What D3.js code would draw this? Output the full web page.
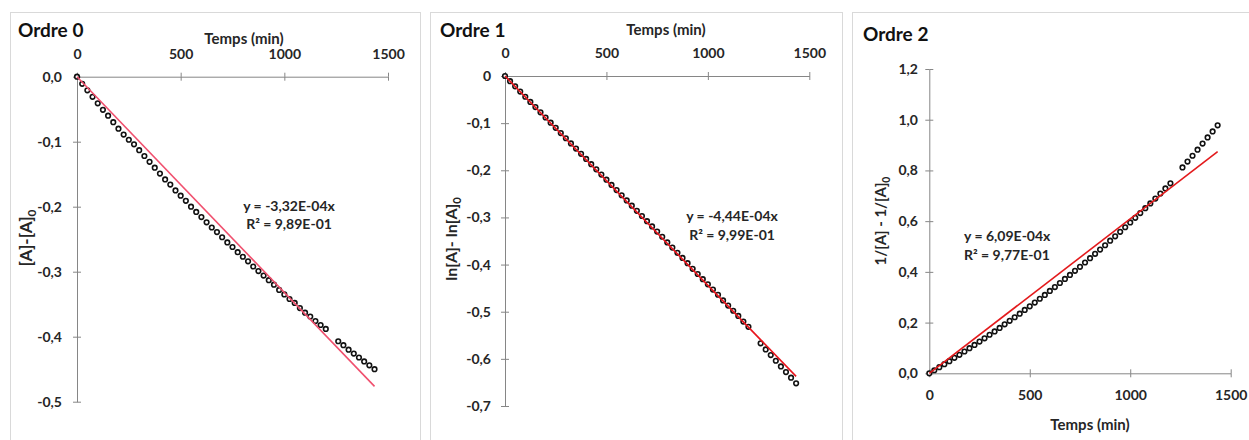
<!DOCTYPE html>
<html>
<head>
<meta charset="utf-8">
<script src="https://cdn.jsdelivr.net/npm/d3@7"></script>
<style>
  html, body { margin: 0; padding: 0; background: #fff; }
  svg { display: block; font-family: Lato, "Open Sans", sans-serif; }
</style>
</head>
<body>
<svg id="chart" width="1249" height="440"></svg>
<script>
// Sampling times (min)
const times = [
  0, 25, 50, 75, 100, 125, 150, 175, 200, 225, 250, 275, 300, 325, 350, 375,
  400, 425, 450, 475, 500, 525, 550, 575, 600, 625, 650, 675, 700, 725, 750, 775,
  800, 825, 850, 875, 900, 925, 950, 975, 1000, 1025, 1050, 1075, 1100, 1125, 1150, 1175,
  1200, 1260, 1285, 1310, 1335, 1360, 1385, 1410, 1435
];

// [A] - [A]0
const order0Values = [
  0.000, -0.011, -0.021, -0.031, -0.041, -0.051, -0.060, -0.070, -0.080, -0.089, -0.097, -0.104, -0.113, -0.122, -0.131, -0.140,
  -0.149, -0.158, -0.166, -0.175, -0.183, -0.191, -0.200, -0.208, -0.216, -0.224, -0.232, -0.239, -0.247, -0.255, -0.262, -0.270,
  -0.277, -0.284, -0.292, -0.299, -0.306, -0.313, -0.320, -0.328, -0.335, -0.342, -0.348, -0.356, -0.363, -0.369, -0.376, -0.382,
  -0.388, -0.407, -0.413, -0.420, -0.426, -0.432, -0.438, -0.444, -0.450
];

// ln[A] - ln[A]0
const order1Values = [
  0.000, -0.011, -0.022, -0.033, -0.044, -0.055, -0.066, -0.077, -0.088, -0.099, -0.110, -0.121, -0.132, -0.143, -0.154, -0.165,
  -0.176, -0.187, -0.198, -0.209, -0.220, -0.231, -0.242, -0.253, -0.264, -0.275, -0.286, -0.297, -0.308, -0.319, -0.330, -0.341,
  -0.353, -0.364, -0.375, -0.386, -0.397, -0.409, -0.420, -0.431, -0.442, -0.453, -0.464, -0.476, -0.487, -0.498, -0.509, -0.521,
  -0.532, -0.567, -0.580, -0.592, -0.604, -0.616, -0.628, -0.640, -0.652
];

// 1/[A] - 1/[A]0
const order2Values = [
  0.000, 0.012, 0.024, 0.036, 0.048, 0.061, 0.073, 0.086, 0.099, 0.112, 0.125, 0.138, 0.152, 0.165, 0.179, 0.193,
  0.207, 0.221, 0.235, 0.250, 0.264, 0.279, 0.294, 0.309, 0.325, 0.340, 0.356, 0.372, 0.388, 0.404, 0.420, 0.437,
  0.454, 0.471, 0.488, 0.505, 0.523, 0.540, 0.558, 0.576, 0.595, 0.613, 0.632, 0.651, 0.670, 0.689, 0.709, 0.729,
  0.749, 0.812, 0.835, 0.858, 0.882, 0.906, 0.930, 0.954, 0.978
];

// Linear fits through the origin: slope and R²
const fitSlopes = [-3.32e-4, -4.44e-4, 6.09e-4];
const fitR2 = [0.989, 0.999, 0.977];

const panelTitles = ["Ordre 0", "Ordre 1", "Ordre 2"];
const xTitle = "Temps (min)";

const xTickValues = [0, 500, 1000, 1500];
const xTickLabels = ["0", "500", "1000", "1500"];

const yTicks0 = [0, -0.1, -0.2, -0.3, -0.4, -0.5];
const yTickLabels0 = ["0,0", "-0,1", "-0,2", "-0,3", "-0,4", "-0,5"];
const yTicks1 = [0, -0.1, -0.2, -0.3, -0.4, -0.5, -0.6, -0.7];
const yTickLabels1 = ["0", "-0,1", "-0,2", "-0,3", "-0,4", "-0,5", "-0,6", "-0,7"];
const yTicks2 = [0, 0.2, 0.4, 0.6, 0.8, 1.0, 1.2];
const yTickLabels2 = ["0,0", "0,2", "0,4", "0,6", "0,8", "1,0", "1,2"];

// Excel-style scientific notation with a decimal comma, e.g. -3,32E-04
function sci(v) {
  const e = Math.floor(Math.log10(Math.abs(v)));
  const m = v / Math.pow(10, e);
  return m.toFixed(2).replace(".", ",") + "E" + (e < 0 ? "-" : "+") + String(Math.abs(e)).padStart(2, "0");
}

const svg = d3.select("#chart");
const AXIS = "#868686";
const TEXT = "#262626";
const TICK_FONT = 14;

const panels = [
  {
    frame: [10, 12, 410, 440],
    title: { x: 18, y: 37 },
    values: order0Values, slope: fitSlopes[0], r2: fitR2[0],
    xRange: [77, 388], yDomain: [-0.5, 0], yRange: [401.7, 76.7],
    yTicks: yTicks0, yLabels: yTickLabels0,
    xAxisTop: true, xLabelBaseline: 59, xTitlePos: { x: 244, y: 44 },
    yLabelRight: 62, yTitle: { x: 26, y: 238, size: 17, main: "[A]-[A]", sub: "0" },
    eq: { x: 289, y: 211, anchor: "middle", dy: 18 },
    fitColor: "#f0506e"
  },
  {
    frame: [430, 12, 412, 440],
    title: { x: 440, y: 37 },
    values: order1Values, slope: fitSlopes[1], r2: fitR2[1],
    xRange: [505, 809.3], yDomain: [-0.7, 0], yRange: [406, 76],
    yTicks: yTicks1, yLabels: yTickLabels1,
    xAxisTop: true, xLabelBaseline: 58, xTitlePos: { x: 666, y: 35 },
    yLabelRight: 491, yTitle: { x: 451, y: 239, size: 16, main: "ln[A]- ln[A]", sub: "0" },
    eq: { x: 732, y: 221, anchor: "middle", dy: 19 },
    fitColor: "#e8141c"
  },
  {
    frame: [852, 12, 420, 440],
    title: { x: 863, y: 41 },
    values: order2Values, slope: fitSlopes[2], r2: fitR2[2],
    xRange: [929.3, 1230.7], yDomain: [0, 1.2], yRange: [373.3, 69],
    yTicks: yTicks2, yLabels: yTickLabels2,
    xAxisTop: false, xLabelBaseline: 400, xTitlePos: { x: 1090, y: 430 },
    yLabelRight: 918, yTitle: { x: 881, y: 221, size: 15, main: "1/[A] - 1/[A]", sub: "0" },
    eq: { x: 964, y: 241, anchor: "start", dy: 19 },
    fitColor: "#e31a1c"
  }
];

panels.forEach((p, i) => {
  const g = svg.append("g");

  // Chart area frame
  g.append("rect")
    .attr("x", p.frame[0] + 0.5).attr("y", p.frame[1] + 0.5)
    .attr("width", p.frame[2]).attr("height", p.frame[3])
    .attr("fill", "#fff").attr("stroke", "#d9d9d9").attr("stroke-width", 1);

  g.append("text")
    .attr("x", p.title.x).attr("y", p.title.y)
    .attr("font-size", 19).attr("font-weight", 700).attr("fill", "#111")
    .text(panelTitles[i]);

  const x = d3.scaleLinear().domain([0, 1500]).range(p.xRange);
  const y = d3.scaleLinear().domain(p.yDomain).range(p.yRange);

  // X axis (crosses the Y axis at 0)
  const x0 = y(0);
  const xAxis = (p.xAxisTop ? d3.axisTop(x) : d3.axisBottom(x))
    .tickValues(xTickValues)
    .tickFormat((d, j) => xTickLabels[j])
    .tickSizeInner(4).tickSizeOuter(0);
  const gx = g.append("g").attr("transform", `translate(0,${x0})`).call(xAxis);
  gx.select(".domain").attr("stroke", AXIS);
  gx.selectAll(".tick line").attr("stroke", AXIS);
  gx.selectAll(".tick").append("line")
    .attr("y2", p.xAxisTop ? 4 : -4).attr("stroke", AXIS);
  gx.selectAll(".tick text")
    .attr("fill", TEXT).attr("font-size", TICK_FONT).attr("font-weight", 700)
    .attr("font-family", "Lato, sans-serif")
    .attr("dy", "0").attr("y", p.xLabelBaseline - x0);

  // Y axis
  const y0 = x(0);
  const yAxis = d3.axisLeft(y)
    .tickValues(p.yTicks)
    .tickFormat((d, j) => p.yLabels[j])
    .tickSizeInner(4).tickSizeOuter(0)
    .tickPadding(y0 - p.yLabelRight - 4);
  const gy = g.append("g").attr("transform", `translate(${y0},0)`).call(yAxis);
  gy.select(".domain").attr("stroke", AXIS);
  gy.selectAll(".tick line").attr("stroke", AXIS);
  gy.selectAll(".tick").append("line").attr("x2", 4).attr("stroke", AXIS);
  gy.selectAll(".tick text")
    .attr("fill", TEXT).attr("font-size", TICK_FONT).attr("font-weight", 700)
    .attr("font-family", "Lato, sans-serif");

  // Axis titles
  g.append("text")
    .attr("x", p.xTitlePos.x).attr("y", p.xTitlePos.y)
    .attr("text-anchor", "middle")
    .attr("font-size", 15).attr("font-weight", 700).attr("fill", TEXT)
    .text(xTitle);

  const yt = g.append("text")
    .attr("transform", `translate(${p.yTitle.x},${p.yTitle.y}) rotate(-90)`)
    .attr("text-anchor", "middle").attr("dy", "0.35em")
    .attr("font-size", p.yTitle.size).attr("font-weight", 700).attr("fill", TEXT);
  yt.append("tspan").text(p.yTitle.main);
  yt.append("tspan").attr("font-size", p.yTitle.size * 0.7).attr("dy", 4).text(p.yTitle.sub);

  // Data points
  const pts = times.map((t, j) => [t, p.values[j]]);
  g.append("g").selectAll("circle").data(pts).join("circle")
    .attr("cx", d => x(d[0])).attr("cy", d => y(d[1]))
    .attr("r", 2.3)
    .attr("fill", "#fff").attr("stroke", "#111").attr("stroke-width", 1.6);

  // Trendline y = a·x through the origin
  const tEnd = d3.max(times);
  g.append("line")
    .attr("x1", x(0)).attr("y1", y(0))
    .attr("x2", x(tEnd)).attr("y2", y(p.slope * tEnd))
    .attr("stroke", p.fitColor).attr("stroke-width", 1.6);

  // Equation and R²
  const eq = g.append("text")
    .attr("x", p.eq.x).attr("y", p.eq.y)
    .attr("text-anchor", p.eq.anchor)
    .attr("font-size", 14).attr("font-weight", 700).attr("fill", TEXT);
  eq.append("tspan").attr("x", p.eq.x).text(`y = ${sci(p.slope)}x`);
  eq.append("tspan").attr("x", p.eq.x).attr("dy", p.eq.dy).text(`R² = ${sci(p.r2)}`);
});
</script>
</body>
</html>
